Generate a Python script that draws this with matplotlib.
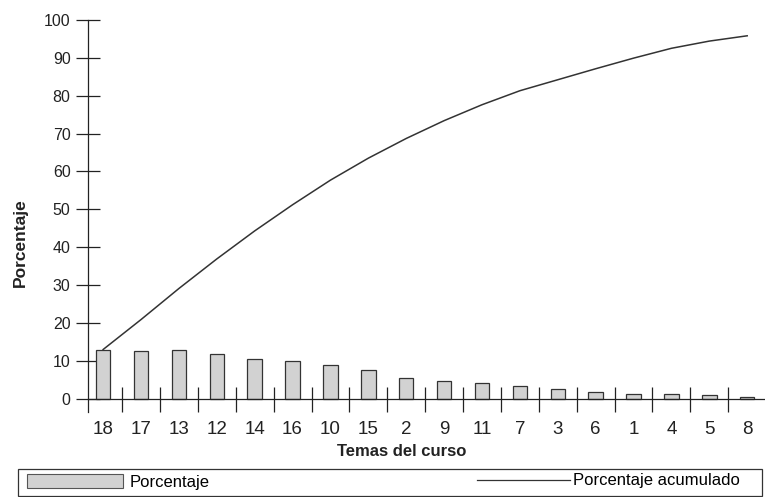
import matplotlib
matplotlib.use("Agg")
import matplotlib.pyplot as plt
from matplotlib.patches import Rectangle, Patch
from matplotlib.lines import Line2D

plt.rcParams['font.family'] = ['Liberation Sans', 'DejaVu Sans']

temas = ["18", "17", "13", "12", "14", "16", "10", "15", "2", "9", "11", "7", "3", "6", "1", "4", "5", "8"]
porcentaje = [12.9, 12.7, 12.8, 11.9, 10.6, 9.9, 8.8, 7.7, 5.4, 4.8, 4.2, 3.3, 2.7, 1.7, 1.2, 1.3, 0.9, 0.4]
acumulado = [13.0, 20.9, 29.1, 36.9, 44.3, 51.2, 57.7, 63.5, 68.7, 73.4, 77.6, 81.3, 84.2, 87.1, 89.9, 92.5, 94.4, 95.8]
yticks = [0, 10, 20, 30, 40, 50, 60, 70, 80, 90, 100]

fig = plt.figure(figsize=(7.65, 4.97), dpi=100)
ax = fig.add_axes([0.115, 0.171, 0.885, 0.789])

x = list(range(len(temas)))
ax.bar(x, porcentaje, width=0.38, color="#d2d2d2", edgecolor="#333333", linewidth=0.9, zorder=2)
ax.plot(x, acumulado, color="#333333", linewidth=1.1, zorder=3)

ax.set_xlim(-0.4, 17.47)
ax.set_ylim(-3.5, 100)

for s in ["top", "right"]:
    ax.spines[s].set_visible(False)
ax.spines["bottom"].set_position(("data", 0))
ax.spines["left"].set_bounds(-3.5, 100)
for s in ["bottom", "left"]:
    ax.spines[s].set_color("#222222")
    ax.spines[s].set_linewidth(0.9)

ax.set_yticks(yticks)
ax.set_yticklabels([str(v) for v in yticks], fontsize=11.5, color="#222222")
ax.tick_params(axis="y", direction="inout", length=17, width=0.9, pad=4, color="#222222")

ax.set_xticks([i + 0.5 for i in range(len(temas) - 1)])
ax.set_xticklabels([])
ax.tick_params(axis="x", which="major", direction="inout", length=18, width=0.9, color="#222222")
ax.set_xticks(x, minor=True)
ax.set_xticklabels(temas, minor=True, fontsize=13.5, color="#222222")
ax.tick_params(axis="x", which="minor", length=0, pad=16)

fig.text(20 / 765, 1 - 243 / 497, "Porcentaje", rotation=90, ha="center", va="center",
         fontsize=12.5, fontweight="bold", color="#222222")
fig.text(402 / 765, 1 - 452 / 497, "Temas del curso", ha="center", va="center",
         fontsize=12, fontweight="bold", color="#222222")

# legend frame
fig.patches.append(Rectangle((18 / 765, 1 - 496 / 497), 744 / 765, 27 / 497,
                             transform=fig.transFigure, fill=False,
                             edgecolor="#333333", linewidth=0.9))
leg1 = fig.legend(handles=[Patch(facecolor="#d2d2d2", edgecolor="#555555", linewidth=0.8, label="Porcentaje")],
                  loc="center left", bbox_to_anchor=(27 / 765, 1 - 482 / 497), frameon=False,
                  handlelength=5.75, handleheight=0.9, handletextpad=0.42, fontsize=12,
                  borderaxespad=0, borderpad=0)
leg2 = fig.legend(handles=[Line2D([], [], color="#333333", linewidth=0.9, label="Porcentaje acumulado")],
                  loc="center left", bbox_to_anchor=(477 / 765, 1 - 481 / 497), frameon=False,
                  handlelength=5.6, handletextpad=0.15, fontsize=12,
                  borderaxespad=0, borderpad=0)

fig.savefig("out.png", dpi=100, facecolor="white")
